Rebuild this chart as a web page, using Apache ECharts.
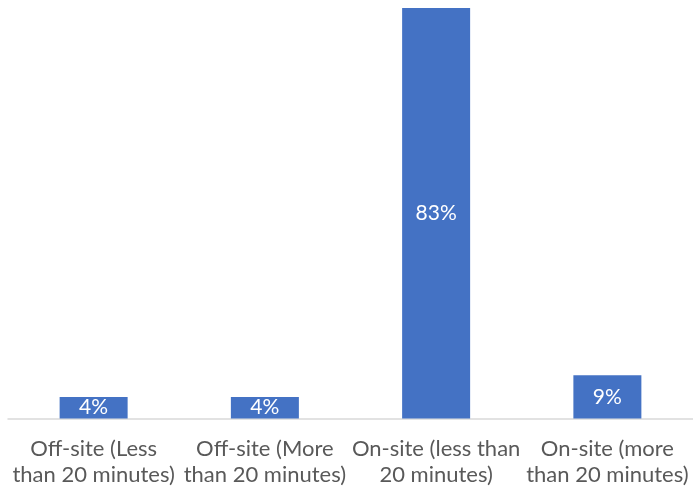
<!DOCTYPE html>
<html><head><meta charset="utf-8">
<script src="https://cdn.jsdelivr.net/npm/echarts@6/dist/echarts.min.js"></script>
<style>html,body{margin:0;padding:0;background:#fff}#c{width:693px;height:492px}</style>
</head><body><div id="c"></div>
<script>
const categories = ["Off-site (Less\nthan 20 minutes)", "Off-site (More\nthan 20 minutes)", "On-site (less than\n20 minutes)", "On-site (more\nthan 20 minutes)"];
const values = [4.35, 4.35, 82.6, 8.7];
const chart = echarts.init(document.getElementById('c'));
chart.setOption({
  animation: false,
  grid: {left: 8, right: 0, top: 8, bottom: 73.5},
  xAxis: {
    type: 'category', data: categories,
    axisLine: {lineStyle: {color: '#d9d9d9', width: 1.5}},
    axisTick: {show: false},
    axisLabel: {color: '#595959', fontFamily: 'Lato', fontSize: 22, lineHeight: 26, margin: 17, interval: 0}
  },
  yAxis: {type: 'value', min: 0, max: 82.6, show: false, splitLine: {show: false}},
  series: [{
    type: 'bar', data: values, barWidth: 68,
    itemStyle: {color: '#4472c4'},
    label: {show: true, position: 'inside', color: '#fff', fontFamily: 'Lato', fontSize: 21,
      formatter: p => Math.round(p.value) + '%'}
  }]
});
</script></body></html>
